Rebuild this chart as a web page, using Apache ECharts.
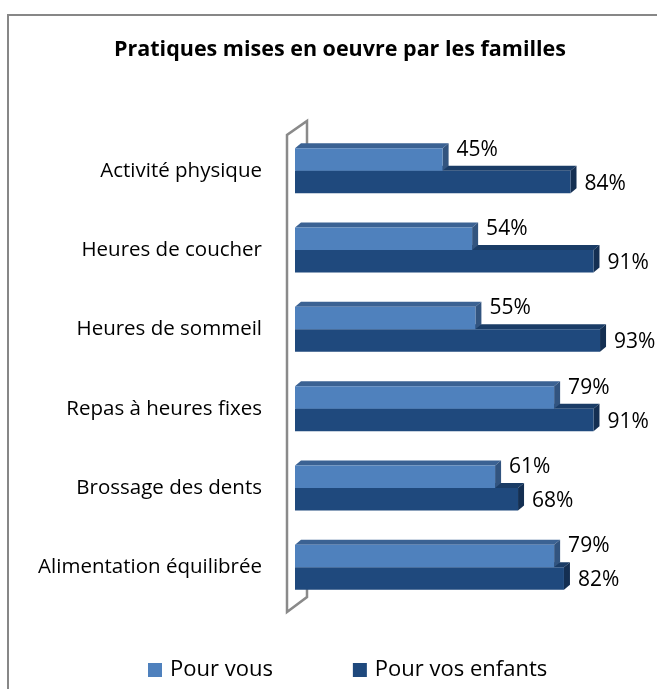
<!DOCTYPE html>
<html><head><meta charset="utf-8">
<script src="https://cdn.jsdelivr.net/npm/echarts@6/dist/echarts.min.js"></script>
<style>html,body{margin:0;padding:0;background:#fff}#c{width:657px;height:689px}</style>
</head><body><div id="c"></div>
<script>
const categories = ['Activité physique','Heures de coucher','Heures de sommeil','Repas à heures fixes','Brossage des dents','Alimentation équilibrée'];
const pourVous = [45, 54, 55, 79, 61, 79];
const pourEnfants = [84, 91, 93, 91, 68, 82];
const seriesNames = ['Pour vous', 'Pour vos enfants'];
const titleText = 'Pratiques mises en oeuvre par les familles';

const FONT = '"Open Sans", "Liberation Sans", sans-serif';
const GRID = {left: 295, top: 131, width: 328, height: 476};

function makeRender(slot, front, top, side, labelDy) {
  return function (params, api) {
    const cat = api.value(1), val = api.value(0);
    const c = api.coord([val, cat]);
    const x0 = api.coord([0, cat])[0];
    const band = api.size([0, 1])[1];
    const h = band * 0.284;
    const y1 = slot === 0 ? c[1] - h : c[1];
    const y2 = y1 + h;
    const x1 = c[0];
    const d = 6, dy = 5;
    return {
      type: 'group',
      children: [
        {type: 'polygon', shape: {points: [[x0, y1], [x0 + d, y1 - dy], [x1 + d, y1 - dy], [x1, y1]]}, style: {fill: top}},
        {type: 'polygon', shape: {points: [[x1, y1], [x1 + d, y1 - dy], [x1 + d, y2 - dy], [x1, y2]]}, style: {fill: side}},
        {type: 'rect', shape: {x: x0, y: y1, width: x1 - x0, height: h}, style: {fill: front}},
        {type: 'text', style: {text: val + '%', x: x1 + 14, y: c[1] + labelDy, verticalAlign: 'middle', textAlign: 'left', font: '21px ' + FONT, fill: '#000'}}
      ]
    };
  };
}

const chart = echarts.init(document.getElementById('c'), null, {renderer: 'canvas'});
const gx0 = GRID.left, gy0 = GRID.top, gy1 = GRID.top + GRID.height;
chart.setOption({
  animation: false,
  backgroundColor: '#fff',
  graphic: [
    {type: 'rect', z: 0, shape: {x: 8, y: 15, width: 800, height: 800}, style: {fill: 'none', stroke: '#878787', lineWidth: 2}},
    {type: 'text', z: 1, style: {text: titleText, x: 340, y: 50, textAlign: 'center', verticalAlign: 'middle', font: 'bold 21.5px ' + FONT, fill: '#000'}},
    {type: 'polyline', z: 1, shape: {points: [[gx0 + 12, gy0 + 16], [gx0 + 12, gy0 - 10], [gx0 - 8, gy0 + 4], [gx0 - 8, gy1 + 5], [gx0 + 12, gy1 - 10], [gx0 + 12, gy1 - 18]]}, style: {fill: 'none', stroke: '#8a8a8a', lineWidth: 2.5}}
  ],
  grid: GRID,
  legend: {
    data: seriesNames,
    left: 143, top: 654,
    icon: 'rect', itemWidth: 14, itemHeight: 14, itemGap: 80,
    textStyle: {fontFamily: FONT, fontSize: 22, color: '#000', padding: [0, 0, 0, 3]}
  },
  xAxis: {type: 'value', min: 0, max: 100, show: false},
  yAxis: {
    type: 'category', data: categories, inverse: true,
    axisLine: {show: false}, axisTick: {show: false}, splitLine: {show: false},
    axisLabel: {fontFamily: FONT, fontSize: 20.5, color: '#000', margin: 33, padding: [12, 0, 0, 0]}
  },
  series: [
    {
      name: seriesNames[1], type: 'custom', z: 2,
      itemStyle: {color: '#1f497d'},
      renderItem: makeRender(1, '#1f497d', '#1a3c66', '#142f52', 13),
      encode: {x: 0, y: 1},
      data: pourEnfants.map((v, i) => [v, i])
    },
    {
      name: seriesNames[0], type: 'custom', z: 3,
      itemStyle: {color: '#4f81bd'},
      renderItem: makeRender(0, '#4f81bd', '#3b6293', '#32547f', -21),
      encode: {x: 0, y: 1},
      data: pourVous.map((v, i) => [v, i])
    }
  ]
});
</script></body></html>
